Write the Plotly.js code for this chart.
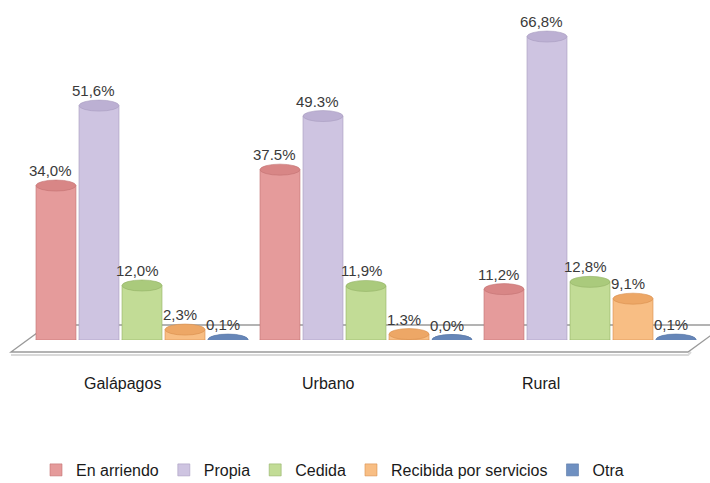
<!DOCTYPE html>
<html>
<head>
<meta charset="utf-8">
<script src="https://cdn.plot.ly/plotly-3.0.1.min.js"></script>
<style>html,body{margin:0;padding:0;background:#fff;}#chart{width:710px;height:483px;}</style>
</head>
<body>
<div id="chart"></div>
<script>
// ---- data ----
var categories = ["Galápagos", "Urbano", "Rural"];
var seriesNames = ["En arriendo", "Propia", "Cedida", "Recibida por servicios", "Otra"];
var enArriendo = [34.0, 37.5, 11.2];
var propia     = [51.6, 49.3, 66.8];
var cedida     = [12.0, 11.9, 12.8];
var recibida   = [2.3, 1.3, 9.1];
var otra       = [0.1, 0.0, 0.1];
// data labels as printed
var lblEnArriendo = ["34,0%", "37.5%", "11,2%"];
var lblPropia     = ["51,6%", "49.3%", "66,8%"];
var lblCedida     = ["12,0%", "11,9%", "12,8%"];
var lblRecibida   = ["2,3%", "1.3%", "9,1%"];
var lblOtra       = ["0,1%", "0,0%", "0,1%"];

var values = [enArriendo, propia, cedida, recibida, otra];
var labels = [lblEnArriendo, lblPropia, lblCedida, lblRecibida, lblOtra];

// ---- styles ----
var bodyColors = ["#e59b9b", "#cec4e1", "#c2dc96", "#f8be84", "#6f90c1"];
var topColors  = ["#d88686", "#bcb0d3", "#aaca7c", "#eda766", "#6686b8"];
var edgeColors = ["#c27272", "#a89cbf", "#93b266", "#d98f4e", "#5a78a8"];
var FONT = "Liberation Sans, Arial, sans-serif";
var bargap = 0.04, bargroupgap = 0.07, nS = 5;
var slot = (1 - bargap) / nS, bw = slot * (1 - bargroupgap);

var traces = [];
for (var j = 0; j < nS; j++) {
  traces.push({
    type: "bar", name: seriesNames[j], x: categories, y: values[j],
    marker: {color: bodyColors[j], line: {color: edgeColors[j], width: 0.6}},
    hoverinfo: "none"
  });
}

// plot area geometry (pixels)
var W = 710, H = 483, L = 30, R = 8, T = 22, B = 143;
var pw = W - L - R, ph = H - T - B;
function px(x) { return (x - L) / pw; }
function py(y) { return (H - B - y) / ph; }

var shapes = [];
// floor (paper coords)
var fl = [[11, 352], [48, 325], [725, 325], [688, 352]];
shapes.push({type: "path", xref: "paper", yref: "paper", layer: "below",
  path: "M" + px(fl[0][0]) + "," + py(fl[0][1] + 3) + " L" + px(fl[3][0]) + "," + py(fl[3][1] + 3) + " L" + px(fl[3][0]+3) + "," + py(fl[3][1]) ,
  line: {color: "#d9d9d9", width: 2}});
shapes.push({type: "path", xref: "paper", yref: "paper", layer: "below",
  path: "M" + px(fl[0][0]) + "," + py(fl[0][1]) + " L" + px(fl[1][0]) + "," + py(fl[1][1]) +
        " L" + px(fl[2][0]) + "," + py(fl[2][1]) + " L" + px(fl[3][0]) + "," + py(fl[3][1]) + " Z",
  fillcolor: "#ffffff", line: {color: "#9a9a9a", width: 1.3}});

var annotations = [];
for (var j = 0; j < nS; j++) {
  for (var i = 0; i < categories.length; i++) {
    var xc = i + (j - (nS - 1) / 2) * slot;
    // bottom ellipse
    shapes.push({type: "circle", xref: "x", yref: "y", layer: "below",
      x0: xc - bw / 2, x1: xc + bw / 2, ysizemode: "pixel", yanchor: 0, y0: -5.5, y1: 5.5,
      fillcolor: bodyColors[j], line: {color: edgeColors[j], width: 0.6}});
    // top ellipse
    shapes.push({type: "circle", xref: "x", yref: "y", layer: "above",
      x0: xc - bw / 2, x1: xc + bw / 2, ysizemode: "pixel", yanchor: values[j][i], y0: -5.5, y1: 5.5,
      fillcolor: topColors[j], line: {color: edgeColors[j], width: 0.6}});
    annotations.push({x: xc, y: values[j][i], xref: "x", yref: "y", text: labels[j][i],
      showarrow: false, yanchor: "middle", yshift: 15, xshift: -5,
      font: {family: FONT, size: 15, color: "#3a3a3a"}});
  }
}
// category labels
var catShift = [-20, -38, -49];
for (var i = 0; i < categories.length; i++) {
  annotations.push({x: i, y: 0, xref: "x", yref: "y", text: categories[i], showarrow: false,
    yanchor: "middle", yshift: -43, xshift: catShift[i],
    font: {family: FONT, size: 16, color: "#1a1a1a"}});
}

var layout = {
  width: W, height: H,
  margin: {l: L, r: R, t: T, b: B, pad: 0},
  paper_bgcolor: "#ffffff", plot_bgcolor: "rgba(0,0,0,0)",
  barmode: "group", bargap: bargap, bargroupgap: bargroupgap,
  xaxis: {type: "category", range: [-0.5, 2.5], showticklabels: false, showgrid: false,
          zeroline: false, showline: false, ticks: ""},
  yaxis: {range: [0, 70], showticklabels: false, showgrid: false, zeroline: false,
          showline: false, ticks: ""},
  showlegend: true,
  legend: {orientation: "h", xref: "container", yref: "container",
           x: 36 / W, xanchor: "left", y: (H - 470) / H, yanchor: "middle",
           font: {family: FONT, size: 16, color: "#1a1a1a"},
           itemwidth: 30, traceorder: "normal"},
  shapes: shapes, annotations: annotations,
  font: {family: FONT}
};

Plotly.newPlot("chart", traces, layout, {displayModeBar: false, staticPlot: true});
</script>
</body>
</html>
